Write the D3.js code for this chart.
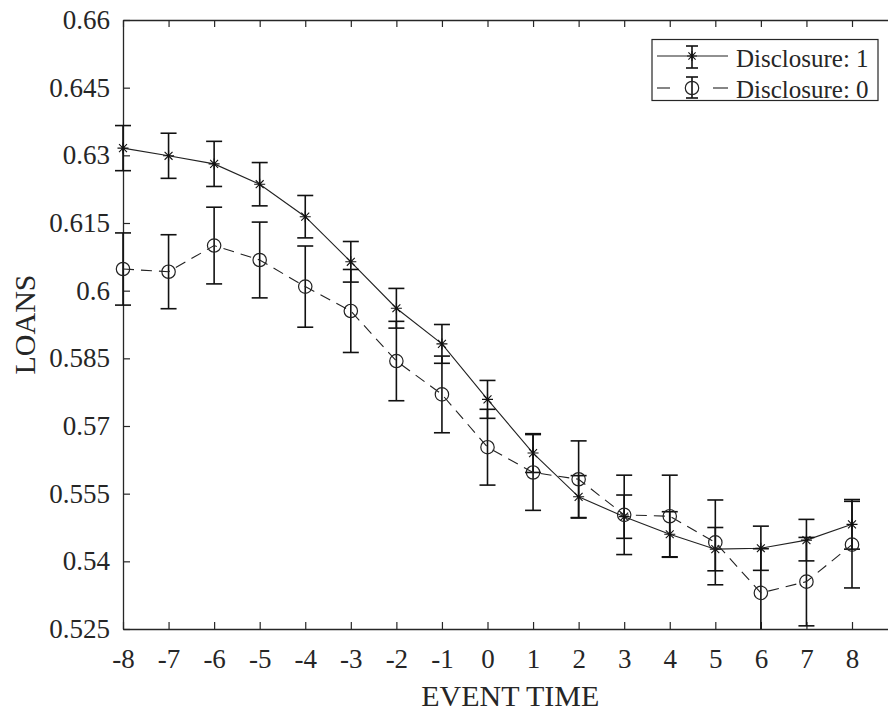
<!DOCTYPE html>
<html>
<head>
<meta charset="utf-8">
<script src="https://cdn.jsdelivr.net/npm/d3@7"></script>
<style>
  html, body { margin: 0; padding: 0; background: #fff; }
  svg { display: block; }
  text { font-family: "Liberation Serif", "Times New Roman", serif; fill: #262626; }
</style>
</head>
<body>
<svg id="chart" width="888" height="715"></svg>
<script>
// Event time (x categories)
const eventTime = [-8, -7, -6, -5, -4, -3, -2, -1, 0, 1, 2, 3, 4, 5, 6, 7, 8];

// Disclosure = 1: mean loans and error-bar half widths
const loansDisc1 = [0.6316, 0.6299, 0.6281, 0.6236, 0.6164, 0.6064, 0.5961, 0.5882, 0.5759,
                    0.5640, 0.5543, 0.5499, 0.5460, 0.5427, 0.5429, 0.5447, 0.5482];
const errDisc1   = [0.0050, 0.0050, 0.0050, 0.0048, 0.0047, 0.0045, 0.0044, 0.0043, 0.0042,
                    0.0043, 0.0047, 0.0048, 0.0050, 0.0048, 0.0049, 0.0046, 0.0055];

// Disclosure = 0: mean loans and error-bar half widths
const loansDisc0 = [0.6048, 0.6042, 0.6100, 0.6068, 0.6009, 0.5955, 0.5844, 0.5770, 0.5653,
                    0.5597, 0.5582, 0.5503, 0.5500, 0.5442, 0.5330, 0.5355, 0.5437];
const errDisc0   = [0.0080, 0.0082, 0.0085, 0.0084, 0.0090, 0.0092, 0.0088, 0.0085, 0.0084,
                    0.0084, 0.0085, 0.0088, 0.0091, 0.0094, 0.0098, 0.0098, 0.0096];

// Axis ticks and labels
const yTicks = [0.525, 0.54, 0.555, 0.57, 0.585, 0.6, 0.615, 0.63, 0.645, 0.66];
const yTickLabels = ["0.525", "0.54", "0.555", "0.57", "0.585", "0.6", "0.615", "0.63", "0.645", "0.66"];
const xTicks = eventTime;
const xLabel = "EVENT TIME";
const yLabel = "LOANS";
const seriesNames = ["Disclosure: 1", "Disclosure: 0"];

const svg = d3.select("#chart");
const W = 888, H = 715;
const plotLeft = 123, plotTop = 20, plotBottom = 629;

const x = d3.scaleLinear().domain([-8, 9]).range([plotLeft, plotLeft + (852 - plotLeft) / 16 * 17]);
const y = d3.scaleLinear().domain([0.525, 0.66]).range([plotBottom, plotTop]);

svg.append("rect").attr("width", W).attr("height", H).attr("fill", "#fff");

const axisColor = "#262626";

// Bottom axis with inward ticks
const gx = svg.append("g").attr("transform", `translate(0,${plotBottom})`)
  .call(d3.axisBottom(x).tickValues(xTicks).tickSizeInner(-7).tickSizeOuter(0)
        .tickPadding(20).tickFormat(d => d));
// Top axis (ticks only)
const gxt = svg.append("g").attr("transform", `translate(0,${plotTop})`)
  .call(d3.axisTop(x).tickValues(xTicks).tickSizeInner(-7).tickSizeOuter(0).tickFormat(""));
// Left axis
const gy = svg.append("g").attr("transform", `translate(${plotLeft},0)`)
  .call(d3.axisLeft(y).tickValues(yTicks).tickSizeInner(-7).tickSizeOuter(0)
        .tickPadding(13).tickFormat((d, i) => yTickLabels[i]));

[gx, gxt, gy].forEach(g => {
  g.select(".domain").attr("stroke", axisColor).attr("stroke-width", 1.3);
  g.selectAll(".tick line").attr("stroke", axisColor).attr("stroke-width", 1.2);
  g.selectAll(".tick text").attr("fill", axisColor)
    .style("font-family", "'Liberation Serif', serif").style("font-size", "27px");
});

// Axis titles
svg.append("text").attr("x", (plotLeft + x(9)) / 2).attr("y", 706)
  .attr("text-anchor", "middle").style("font-size", "30px").text(xLabel);
svg.append("text").attr("transform", `translate(35,${(plotTop + plotBottom) / 2}) rotate(-90)`)
  .attr("text-anchor", "middle").style("font-size", "30px").text(yLabel);

const capHalf = 8;
const barColor = "#111";
const lineColor = "#222";

function drawErrorBars(vals, errs) {
  const g = svg.append("g").attr("stroke", barColor).attr("stroke-width", 1.6).attr("fill", "none");
  eventTime.forEach((t, i) => {
    const cx = x(t), y1 = y(vals[i] + errs[i]), y2 = y(Math.max(vals[i] - errs[i], 0.525));
    g.append("line").attr("x1", cx).attr("x2", cx).attr("y1", y1).attr("y2", y2);
    g.append("line").attr("x1", cx - capHalf).attr("x2", cx + capHalf).attr("y1", y1).attr("y2", y1);
    if (vals[i] - errs[i] >= 0.525) {
      g.append("line").attr("x1", cx - capHalf).attr("x2", cx + capHalf).attr("y1", y2).attr("y2", y2);
    }
  });
}

function asterisk(g, cx, cy, s) {
  const d = s * 0.72;
  g.append("path").attr("d",
    `M${cx - s},${cy}H${cx + s}M${cx},${cy - s}V${cy + s}` +
    `M${cx - d},${cy - d}L${cx + d},${cy + d}M${cx - d},${cy + d}L${cx + d},${cy - d}`);
}

const line = d3.line().x((d, i) => x(eventTime[i])).y(d => y(d));

// Disclosure: 1
drawErrorBars(loansDisc1, errDisc1);
svg.append("path").datum(loansDisc1).attr("d", line)
  .attr("fill", "none").attr("stroke", lineColor).attr("stroke-width", 1.1);
const m1 = svg.append("g").attr("stroke", "#111").attr("stroke-width", 1.1).attr("fill", "none");
loansDisc1.forEach((v, i) => asterisk(m1, x(eventTime[i]), y(v), 5.5));

// Disclosure: 0
drawErrorBars(loansDisc0, errDisc0);
svg.append("path").datum(loansDisc0).attr("d", line)
  .attr("fill", "none").attr("stroke", lineColor).attr("stroke-width", 1.1)
  .attr("stroke-dasharray", "11,7");
svg.append("g").selectAll("circle").data(loansDisc0).join("circle")
  .attr("cx", (d, i) => x(eventTime[i])).attr("cy", d => y(d)).attr("r", 6.7)
  .attr("fill", "none").attr("stroke", "#222").attr("stroke-width", 1.2);

// Legend
const lg = svg.append("g");
lg.append("rect").attr("x", 652).attr("y", 39.5).attr("width", 226).attr("height", 61)
  .attr("fill", "#fff").attr("stroke", axisColor).attr("stroke-width", 1.2);
const mx = 692;
// entry 1
lg.append("line").attr("x1", 657).attr("x2", 728).attr("y1", 56).attr("y2", 56)
  .attr("stroke", lineColor).attr("stroke-width", 1.1);
const le1 = lg.append("g").attr("stroke", barColor).attr("stroke-width", 1.6);
le1.append("line").attr("x1", mx).attr("x2", mx).attr("y1", 46).attr("y2", 68);
le1.append("line").attr("x1", mx - 6).attr("x2", mx + 6).attr("y1", 46).attr("y2", 46);
le1.append("line").attr("x1", mx - 6).attr("x2", mx + 6).attr("y1", 68).attr("y2", 68);
const lm1 = lg.append("g").attr("stroke", "#111").attr("stroke-width", 1.1).attr("fill", "none");
asterisk(lm1, mx, 56, 5);
lg.append("text").attr("x", 736).attr("y", 67).style("font-size", "25px").text(seriesNames[0]);
// entry 2
lg.append("line").attr("x1", 657).attr("x2", 670).attr("y1", 88).attr("y2", 88)
  .attr("stroke", lineColor).attr("stroke-width", 1.1);
lg.append("line").attr("x1", 713).attr("x2", 728).attr("y1", 88).attr("y2", 88)
  .attr("stroke", lineColor).attr("stroke-width", 1.1);
const le2 = lg.append("g").attr("stroke", barColor).attr("stroke-width", 1.6);
le2.append("line").attr("x1", mx).attr("x2", mx).attr("y1", 77).attr("y2", 98);
le2.append("line").attr("x1", mx - 6).attr("x2", mx + 6).attr("y1", 77).attr("y2", 77);
le2.append("line").attr("x1", mx - 6).attr("x2", mx + 6).attr("y1", 98).attr("y2", 98);
lg.append("circle").attr("cx", mx).attr("cy", 88).attr("r", 6.7)
  .attr("fill", "none").attr("stroke", "#222").attr("stroke-width", 1.2);
lg.append("text").attr("x", 736).attr("y", 97.5).style("font-size", "25px").text(seriesNames[1]);
</script>
</body>
</html>
